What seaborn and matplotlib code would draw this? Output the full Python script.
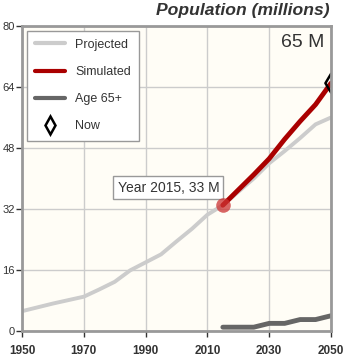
import numpy as np
import pandas as pd
import matplotlib
matplotlib.use("Agg")
import matplotlib.pyplot as plt
import seaborn as sns
from matplotlib.lines import Line2D

proj_years = [1950, 1955, 1960, 1965, 1970, 1975, 1980, 1985, 1990, 1995, 2000,
              2005, 2010, 2015, 2020, 2025, 2030, 2035, 2040, 2045, 2050]
proj_pop = [5.2, 6.2, 7.2, 8.1, 9.0, 10.9, 12.9, 15.9, 18.0, 20.1, 23.5,
            26.8, 30.5, 33.0, 36.5, 40.0, 44.0, 47.2, 50.6, 54.2, 56.0]

sim_years = [2015, 2020, 2025, 2030, 2035, 2040, 2045, 2050]
sim_pop = [33.0, 37.0, 41.0, 45.2, 50.3, 55.0, 59.4, 65.0]
old_pop = [1.0, 1.0, 1.0, 2.0, 2.0, 3.0, 3.0, 4.0]

now_year = 2050
now_pop = 65
cur_year = 2015
cur_pop = 33

sns.set_theme(style="white")
plt.rcParams['font.family'] = ['Liberation Sans', 'DejaVu Sans']

df_proj = pd.DataFrame({"year": proj_years, "pop": proj_pop})
df_sim = pd.DataFrame({"year": sim_years, "pop": sim_pop, "old": old_pop})

fig = plt.figure(figsize=(3.44, 3.57), dpi=100)
ax = fig.add_axes([22 / 344, 26 / 357, 309 / 344, 305 / 357])
ax.set_facecolor("#fffdf6")

sns.lineplot(data=df_proj, x="year", y="pop", ax=ax, color="#cccccc", lw=2.8)
sns.lineplot(data=df_sim, x="year", y="old", ax=ax, color="#666666", lw=3.5)
sns.lineplot(data=df_sim, x="year", y="pop", ax=ax, color="#aa0000", lw=3.5)
ax.scatter([cur_year], [cur_pop], s=110, color="#cc3333", alpha=0.75, zorder=5, linewidths=0)
ax.scatter([now_year], [now_pop], s=90, marker="d", facecolor="none", edgecolor="black",
           linewidths=1.8, zorder=2)

ax.set_xlim(1950, 2050)
ax.set_ylim(0, 80)
ax.set_xticks(range(1950, 2051, 20))
ax.set_yticks(range(0, 81, 16))
ax.grid(True, color="#cccccc", lw=1)
ax.set_axisbelow(True)
ax.set_xlabel("")
ax.set_ylabel("")
for s in ax.spines.values():
    s.set_color("#999999")
    s.set_linewidth(2)
    s.set_zorder(7)
ax.tick_params(axis="y", labelsize=8, colors="#333333", length=4, width=1, pad=1,
               direction="out", left=True)
ax.tick_params(axis="x", labelsize=8.5, colors="#333333", length=4, width=1, pad=6,
               direction="out", bottom=True)
for lb in ax.get_xticklabels():
    lb.set_fontweight("bold")

ax.text(0.98, 0.975, "65 M", transform=ax.transAxes, ha="right", va="top",
        fontsize=14, color="#333333")
ax.text(cur_year - 1.2, cur_pop + 4.6, "Year 2015, 33 M", ha="right", va="center",
        fontsize=10, color="#333333",
        bbox=dict(boxstyle="square,pad=0.3", fc="white", ec="#999999", lw=1))

fig.text(330 / 344, 1 - 11 / 357, "Population (millions)", ha="right", va="center",
         fontsize=12.6, fontweight="bold", fontstyle="italic", color="#333333")

handles = [
    Line2D([], [], color="#cccccc", lw=3),
    Line2D([], [], color="#aa0000", lw=3),
    Line2D([], [], color="#666666", lw=3),
    Line2D([], [], marker="d", color="black", markerfacecolor="none", ls="none",
           markersize=9, markeredgewidth=1.8),
]
leg = ax.legend(handles, ["Projected", "Simulated", "Age 65+", "Now"], loc="upper left",
                bbox_to_anchor=(0.016, 0.985), frameon=True, fancybox=False, fontsize=9,
                handlelength=2.4, labelspacing=1.22, borderpad=0.65, handletextpad=0.8,
                borderaxespad=0, edgecolor="#999999", framealpha=1, labelcolor="#333333")
leg.get_frame().set_linewidth(1)

fig.savefig("out.png", dpi=100)
